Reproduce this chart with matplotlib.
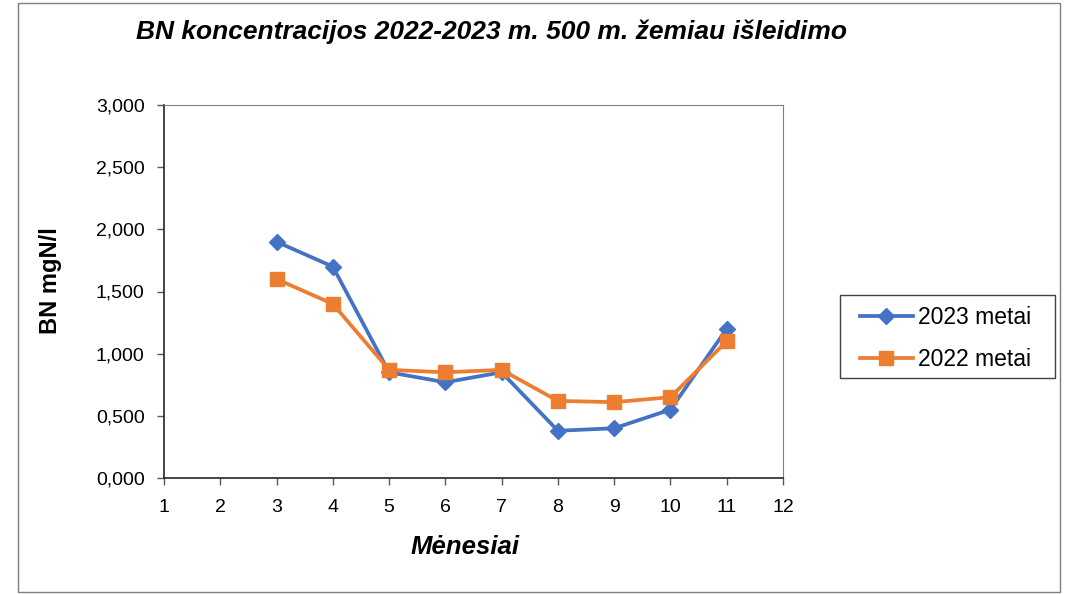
import matplotlib
matplotlib.use("Agg")
import matplotlib.pyplot as plt
from matplotlib.patches import Rectangle
from matplotlib.ticker import FuncFormatter, MultipleLocator

months = [3, 4, 5, 6, 7, 8, 9, 10, 11]
bn_2023 = [1.90, 1.70, 0.85, 0.77, 0.85, 0.38, 0.40, 0.55, 1.20]
bn_2022 = [1.60, 1.40, 0.87, 0.85, 0.87, 0.62, 0.61, 0.65, 1.10]

plt.rcParams["font.family"] = ["Liberation Sans", "DejaVu Sans"]

W, H = 1069, 594
fig = plt.figure(figsize=(W / 100, H / 100), dpi=100)
ax = fig.add_axes([164 / W, 116 / H, 619 / W, 373 / H])

# outer chart border and legend box
fig.patches.append(Rectangle((18 / W, 2 / H), 1042 / W, 589 / H,
                             transform=fig.transFigure, fill=False,
                             edgecolor="#7f7f7f", linewidth=1.0))
fig.patches.append(Rectangle((840 / W, 1 - 378 / H), 215 / W, 83 / H,
                             transform=fig.transFigure, fill=False,
                             edgecolor="#404040", linewidth=1.0))

ax.plot(months, bn_2023, color="#4472C4", linewidth=2.7, marker="D",
        markersize=8, label="2023 metai")
ax.plot(months, bn_2022, color="#ED7D31", linewidth=2.7, marker="s",
        markersize=10, label="2022 metai")

ax.set_xlim(1, 12)
ax.set_ylim(0, 3)
ax.xaxis.set_major_locator(MultipleLocator(1))
ax.yaxis.set_major_locator(MultipleLocator(0.5))
ax.yaxis.set_major_formatter(FuncFormatter(lambda v, p: "{:.3f}".format(v).replace(".", ",")))
ax.tick_params(axis="both", labelsize=14, length=5, width=1, color="#595959", direction="out")
ax.tick_params(axis="y", pad=9)
ax.tick_params(axis="x", pad=10)

for side in ["top", "right"]:
    ax.spines[side].set_color("#808080")
for side in ["left", "bottom"]:
    ax.spines[side].set_color("#262626")
    ax.spines[side].set_linewidth(1.2)

ax.set_xlabel("Mėnesiai", fontsize=18.5, fontweight="bold", style="italic")
ax.xaxis.set_label_coords((465 - 164) / 619, (478 - 535) / 373)
ax.set_ylabel("BN mgN/l", fontsize=17, fontweight="bold")
ax.yaxis.set_label_coords((62 - 164) / 619, (478 - 281) / 373)

fig.text(492 / W, 1 - 32 / H, "BN koncentracijos 2022-2023 m. 500 m. žemiau išleidimo",
         ha="center", va="center", fontsize=19, fontweight="bold", style="italic")

ax.legend(loc="upper left", bbox_to_anchor=(860 / W, 1 - 306 / H),
          bbox_transform=fig.transFigure, fontsize=16.5, frameon=False,
          handlelength=2.3, borderpad=0, labelspacing=0.85,
          handletextpad=0.25, borderaxespad=0)

fig.savefig("out.png", dpi=100)
